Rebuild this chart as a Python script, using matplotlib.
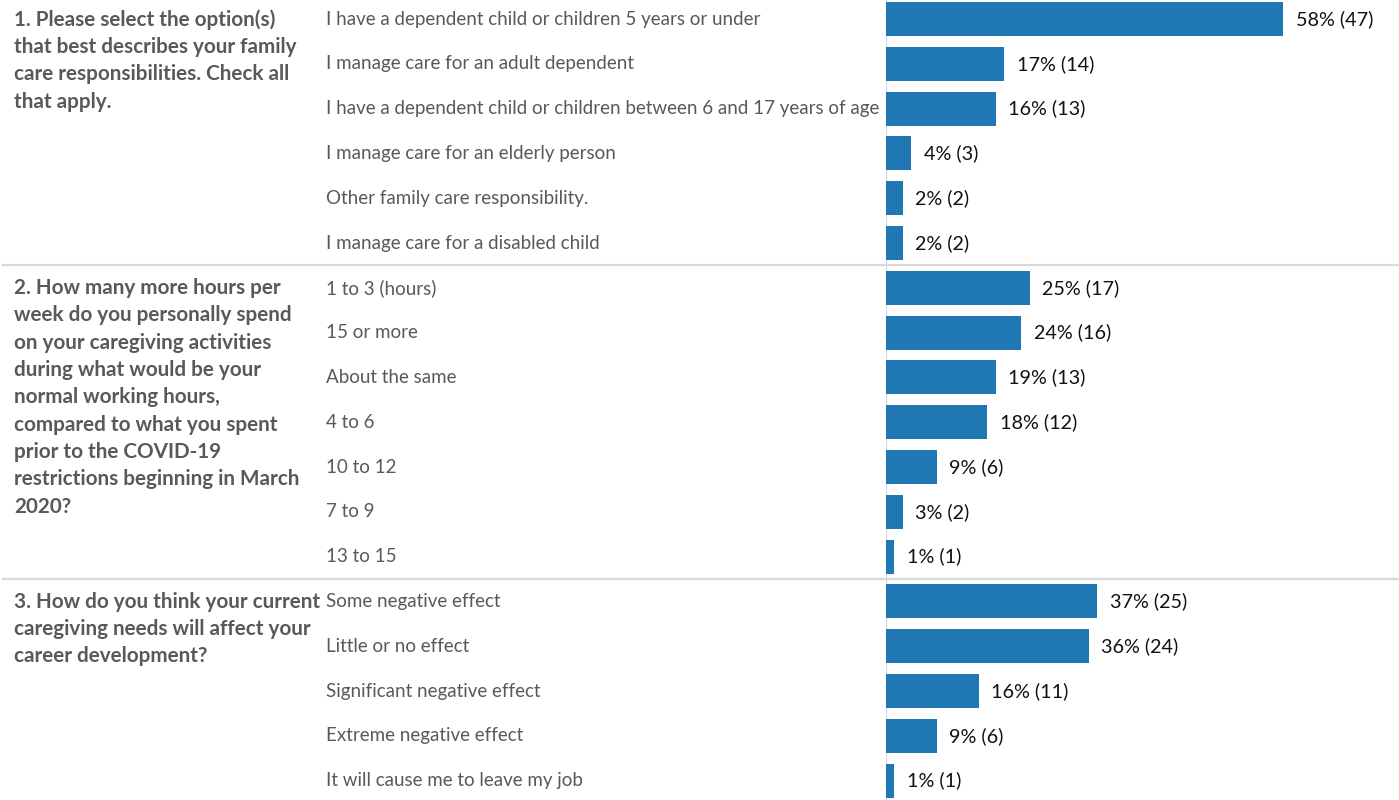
import matplotlib
matplotlib.use("Agg")
import matplotlib.pyplot as plt
from matplotlib.transforms import blended_transform_factory
from matplotlib.lines import Line2D

plt.rcParams['font.family'] = ['Lato', 'DejaVu Sans']

# Survey questions (with their line breaks) and answer breakdowns
questions = [
    "1. Please select the option(s)\nthat best describes your family\ncare responsibilities. Check all\nthat apply.",
    "2. How many more hours per\nweek do you personally spend\non your caregiving activities\nduring what would be your\nnormal working hours,\ncompared to what you spent\nprior to the COVID-19\nrestrictions beginning in March\n2020?",
    "3. How do you think your current\ncaregiving needs will affect your\ncareer development?",
]

q1_answers = [
    "I have a dependent child or children 5 years or under",
    "I manage care for an adult dependent",
    "I have a dependent child or children between 6 and 17 years of age",
    "I manage care for an elderly person",
    "Other family care responsibility.",
    "I manage care for a disabled child",
]
q1_pct = [58, 17, 16, 4, 2, 2]
q1_count = [47, 14, 13, 3, 2, 2]

q2_answers = [
    "1 to 3 (hours)",
    "15 or more",
    "About the same",
    "4 to 6",
    "10 to 12",
    "7 to 9",
    "13 to 15",
]
q2_pct = [25, 24, 19, 18, 9, 3, 1]
q2_count = [17, 16, 13, 12, 6, 2, 1]

q3_answers = [
    "Some negative effect",
    "Little or no effect",
    "Significant negative effect",
    "Extreme negative effect",
    "It will cause me to leave my job",
]
q3_pct = [37, 36, 16, 9, 1]
q3_count = [25, 24, 11, 6, 1]

groups = [
    (q1_answers, q1_pct, q1_count),
    (q2_answers, q2_pct, q2_count),
    (q3_answers, q3_pct, q3_count),
]

BAR_COLOR = "#1f77b4"
GRAY_TEXT = "#595959"
RULE_COLOR = "#d9d9d9"

W, H = 1399, 800
fig = plt.figure(figsize=(W / 100, H / 100), dpi=100)

# Bar panel occupies the right part of the canvas; rows are evenly spaced
row_px = 44.8
first_center_px = 19.0
left_px = 886
ax = fig.add_axes([left_px / W, 0, 1 - left_px / W, 1])
px_per_count = 8.45
ax.set_xlim(0, (W - left_px) / px_per_count)
ax.set_ylim((H - first_center_px) / row_px, -first_center_px / row_px)
ax.axis("off")

# thin vertical baseline behind the bars
ax.axvline(0, color=RULE_COLOR, lw=1.6, zorder=0)

trans = blended_transform_factory(fig.transFigure, ax.transData)

row = 0
for gi, (answers, pcts, counts) in enumerate(groups):
    ys = list(range(row, row + len(answers)))
    ax.barh(ys, counts, height=0.76, color=BAR_COLOR, zorder=2)
    for y, label, p, c in zip(ys, answers, pcts, counts):
        fig.text(326 / W, y, label, transform=trans, ha="left", va="center",
                 fontsize=13.5, color=GRAY_TEXT)
        ax.annotate(f"{p}% ({c})", xy=(c, y), xytext=(9, 0),
                    textcoords="offset points", ha="left", va="center",
                    fontsize=14.2, color="#111111")
    fig.text(14 / W, row - 0.22, questions[gi], transform=trans,
             ha="left", va="top", fontsize=14.9, fontweight="bold",
             color=GRAY_TEXT, linespacing=1.46)
    row += len(answers)
    if gi < len(groups) - 1:
        fig.add_artist(Line2D([3 / W, 1], [row - 0.5, row - 0.5],
                              transform=trans, color=RULE_COLOR, lw=1.6))

fig.savefig("out.png", dpi=100)
